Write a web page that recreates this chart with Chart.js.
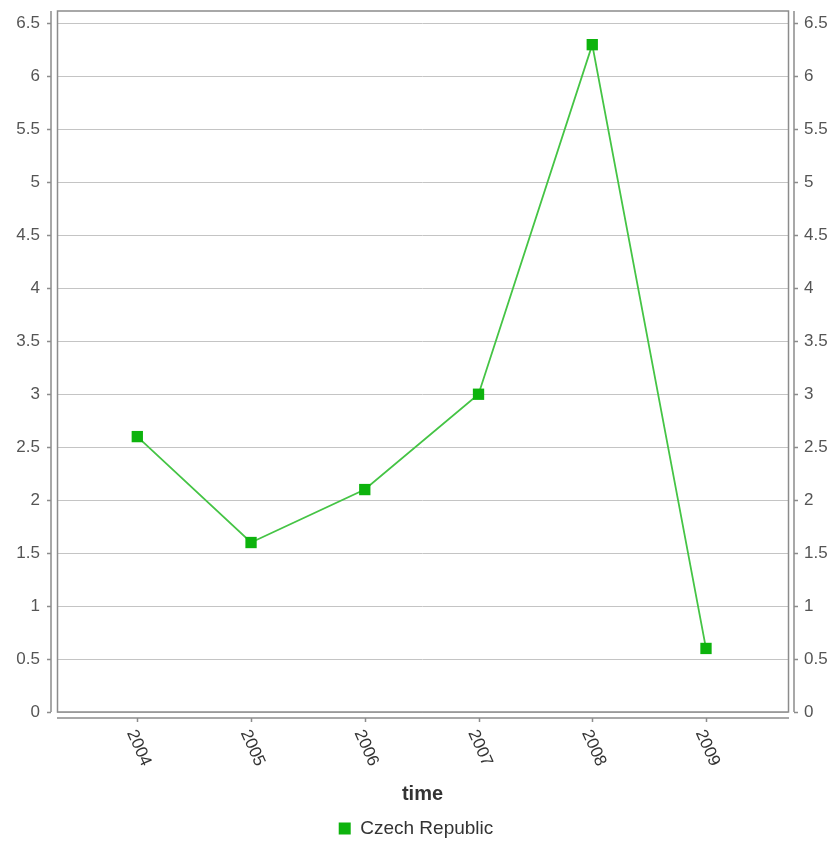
<!DOCTYPE html>
<html><head><meta charset="utf-8">
<script src="https://cdn.jsdelivr.net/npm/chart.js@4.4.1/dist/chart.umd.min.js"></script>
<style>html,body{margin:0;padding:0;background:#fff}canvas{display:block}</style>
</head><body>
<canvas id="c" width="832" height="841"></canvas>
<script>
// ---- data ----
const years = [2004, 2005, 2006, 2007, 2008, 2009];
const yearLabels = ['2004', '2005', '2006', '2007', '2008', '2009'];
const czechValues = [2.6, 1.6, 2.1, 3.0, 6.3, 0.6];
const seriesName = 'Czech Republic';
const xTitle = 'time';
const yTickStep = 0.5;

const FONT = '"Liberation Sans", Arial, Helvetica, sans-serif';
const LINE_COLOR = '#45c445';
const MARK_COLOR = '#0db30d';
const AXIS_COLOR = '#8c8c8c';

const decoPlugin = {
  id: 'deco',
  beforeDatasetsDraw(chart) {
    const {ctx, chartArea: a, scales} = chart;
    const ys = scales.y, xs = scales.x;
    ctx.save();
    ctx.strokeStyle = AXIS_COLOR;
    ctx.lineWidth = 1.5;
    // plot border
    ctx.strokeRect(a.left + 0.5, a.top, a.right - a.left, a.bottom - a.top);
    // left axis
    const lx = a.left - 6;
    ctx.beginPath();
    ctx.moveTo(lx, a.top); ctx.lineTo(lx, a.bottom);
    ys.ticks.forEach(t => {
      const py = Math.round(ys.getPixelForValue(t.value)) + 0.5;
      ctx.moveTo(lx - 4, py); ctx.lineTo(lx, py);
    });
    // right axis
    const rx = a.right + 6;
    ctx.moveTo(rx, a.top); ctx.lineTo(rx, a.bottom);
    ys.ticks.forEach(t => {
      const py = Math.round(ys.getPixelForValue(t.value)) + 0.5;
      ctx.moveTo(rx, py); ctx.lineTo(rx + 4, py);
    });
    // bottom axis
    const by = a.bottom + 6;
    ctx.moveTo(a.left, by); ctx.lineTo(a.right + 1, by);
    years.forEach(yr => {
      const px = Math.round(xs.getPixelForValue(yr)) + 0.5;
      ctx.moveTo(px, by); ctx.lineTo(px, by + 4);
    });
    ctx.stroke();
    ctx.restore();
  },
  afterDraw(chart) {
    const {ctx, chartArea: a, scales} = chart;
    const xs = scales.x;
    const by = a.bottom + 6;
    ctx.save();
    ctx.fillStyle = '#333';
    ctx.font = '17px ' + FONT;
    ctx.textAlign = 'center';
    ctx.textBaseline = 'middle';
    years.forEach((yr, i) => {
      const px = xs.getPixelForValue(yr);
      ctx.save();
      ctx.translate(px + 1.5, by + 30);
      ctx.rotate(66 * Math.PI / 180);
      ctx.fillText(yearLabels[i], 0, 0);
      ctx.restore();
    });
    ctx.fillStyle = '#333';
    ctx.font = 'bold 20px ' + FONT;
    ctx.fillText(xTitle, (a.left + a.right) / 2, 794);
    ctx.restore();
  }
};

const yTickCfg = (pad) => ({
  stepSize: yTickStep,
  includeBounds: false,
  padding: pad,
  color: '#555',
  font: { family: FONT, size: 17 },
  callback: v => String(Math.round(v * 10) / 10)
});

new Chart(document.getElementById('c'), {
  type: 'line',
  data: {
    datasets: [{
      label: seriesName,
      data: years.map((yr, i) => ({ x: yr, y: czechValues[i] })),
      borderColor: LINE_COLOR,
      backgroundColor: MARK_COLOR,
      borderWidth: 1.8,
      pointStyle: 'rect',
      pointRadius: 8,
      pointHoverRadius: 8,
      pointBackgroundColor: MARK_COLOR,
      pointBorderColor: MARK_COLOR,
      pointBorderWidth: 0,
      tension: 0,
      fill: false,
      yAxisID: 'y'
    }]
  },
  options: {
    responsive: false,
    animation: false,
    devicePixelRatio: 1,
    layout: { padding: { top: 11, left: 0, right: 0, bottom: -7 } },
    plugins: {
      tooltip: { enabled: false },
      legend: {
        position: 'bottom',
        labels: {
          boxWidth: 12,
          boxHeight: 12,
          color: '#333',
          font: { family: FONT, size: 19 },
          generateLabels(chart) {
            return Chart.defaults.plugins.legend.labels.generateLabels(chart).map(l => {
              l.fillStyle = MARK_COLOR; l.strokeStyle = MARK_COLOR; l.lineWidth = 0; return l;
            });
          }
        }
      }
    },
    scales: {
      x: {
        type: 'linear',
        min: 2003.294,
        max: 2009.721,
        grid: { display: false },
        border: { display: false },
        ticks: { display: false },
        afterFit(s) { s.height = 97; s.paddingLeft = 0; s.paddingRight = 0; }
      },
      y: {
        position: 'left',
        min: 0,
        max: 6.618,
        grid: { color: '#c4c4c4', lineWidth: 1, drawTicks: false },
        border: { display: false },
        ticks: yTickCfg(17),
        afterFit(s) { s.width = 57; s.paddingTop = 0; s.paddingBottom = 0; }
      },
      y2: {
        position: 'right',
        min: 0,
        max: 6.618,
        grid: { display: false, drawTicks: false },
        border: { display: false },
        ticks: yTickCfg(16),
        afterFit(s) { s.width = 44; s.paddingTop = 0; s.paddingBottom = 0; }
      }
    }
  },
  plugins: [decoPlugin]
});
</script>
</body></html>
